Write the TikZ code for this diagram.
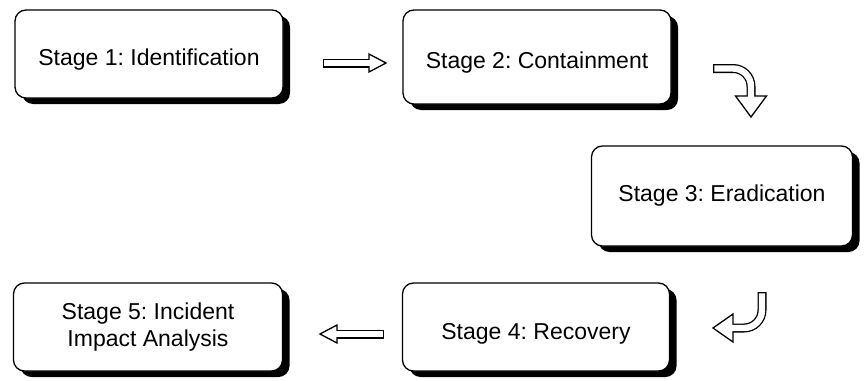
\documentclass[tikz,border=0pt]{standalone}
\usepackage{fontspec}
\setmainfont{Liberation Sans}
\usetikzlibrary{shadows}
\frenchspacing
\begin{document}
\begin{tikzpicture}[x=1pt,y=-1pt,
  stagebox/.style={draw=black, line width=1.3pt, fill=white, rounded corners=11pt,
    align=center, inner sep=0pt, font=\fontsize{23}{27}\selectfont,
    drop shadow={shadow xshift=7pt, shadow yshift=-6pt, fill=black, opacity=1}},
  lowtext/.style={text height=#1, text depth=4pt},
  shaftout/.style={line width=9pt, line cap=butt},
  shaftin/.style={white, line width=6.4pt, line cap=butt, shorten <=1.3pt, shorten >=-2pt},
  blockhead/.style={draw=black, fill=white, line width=1.3pt, line join=miter}]
\useasboundingbox (0,0) rectangle (867,380);

% the five stages
\node[stagebox, lowtext=26pt, minimum width=268pt, minimum height=88pt] (s1) at (149,54) {Stage 1: Identification};
\node[stagebox, lowtext=26pt, minimum width=268pt, minimum height=94pt] (s2) at (537,57) {Stage 2: Containment};
\node[stagebox, minimum width=261pt, minimum height=100pt] (s3) at (722,196) {Stage 3: Eradication};
\node[stagebox, lowtext=29pt, minimum width=267pt, minimum height=88pt] (s4) at (536,327) {Stage 4: Recovery};
\node[stagebox, minimum width=269pt, minimum height=88pt] (s5) at (148,327) {Stage 5: Incident\\Impact Analysis};

% arrow 1 -> 2
\coordinate (a1s) at (323,63);
\coordinate (a1e) at (369,63);
\draw[shaftout] (a1s) -- (a1e);
\draw[blockhead] (369,54) -- (386,63) -- (369,72) -- cycle;
\draw[shaftin] (a1s) -- (a1e);

% arrow 2 -> 3 (bends downwards)
\coordinate (a2s) at (713,68.5);
\coordinate (a2e) at (751,96);
\draw[shaftout] (a2s) -- (733,68.5) .. controls (743,68.5) and (751,76.5) .. (751,86.5) -- (a2e);
\draw[blockhead] (735.5,96) -- (766.5,96) -- (751,117) -- cycle;
\draw[shaftin] (a2s) -- (733,68.5) .. controls (743,68.5) and (751,76.5) .. (751,86.5) -- (a2e);

% arrow 3 -> 4 (bends to the left)
\coordinate (a3s) at (762,292);
\coordinate (a3e) at (733,328);
\draw[shaftout] (a3s) -- (762,310) .. controls (762,320) and (754,328) .. (744,328) -- (a3e);
\draw[blockhead] (733,314) -- (713,328) -- (733,342) -- cycle;
\draw[shaftin] (a3s) -- (762,310) .. controls (762,320) and (754,328) .. (744,328) -- (a3e);

% arrow 4 -> 5
\coordinate (a4s) at (384,334);
\coordinate (a4e) at (337,334);
\draw[shaftout] (a4s) -- (a4e);
\draw[blockhead] (337,325) -- (320,334) -- (337,343) -- cycle;
\draw[shaftin] (a4s) -- (a4e);
\end{tikzpicture}
\end{document}
